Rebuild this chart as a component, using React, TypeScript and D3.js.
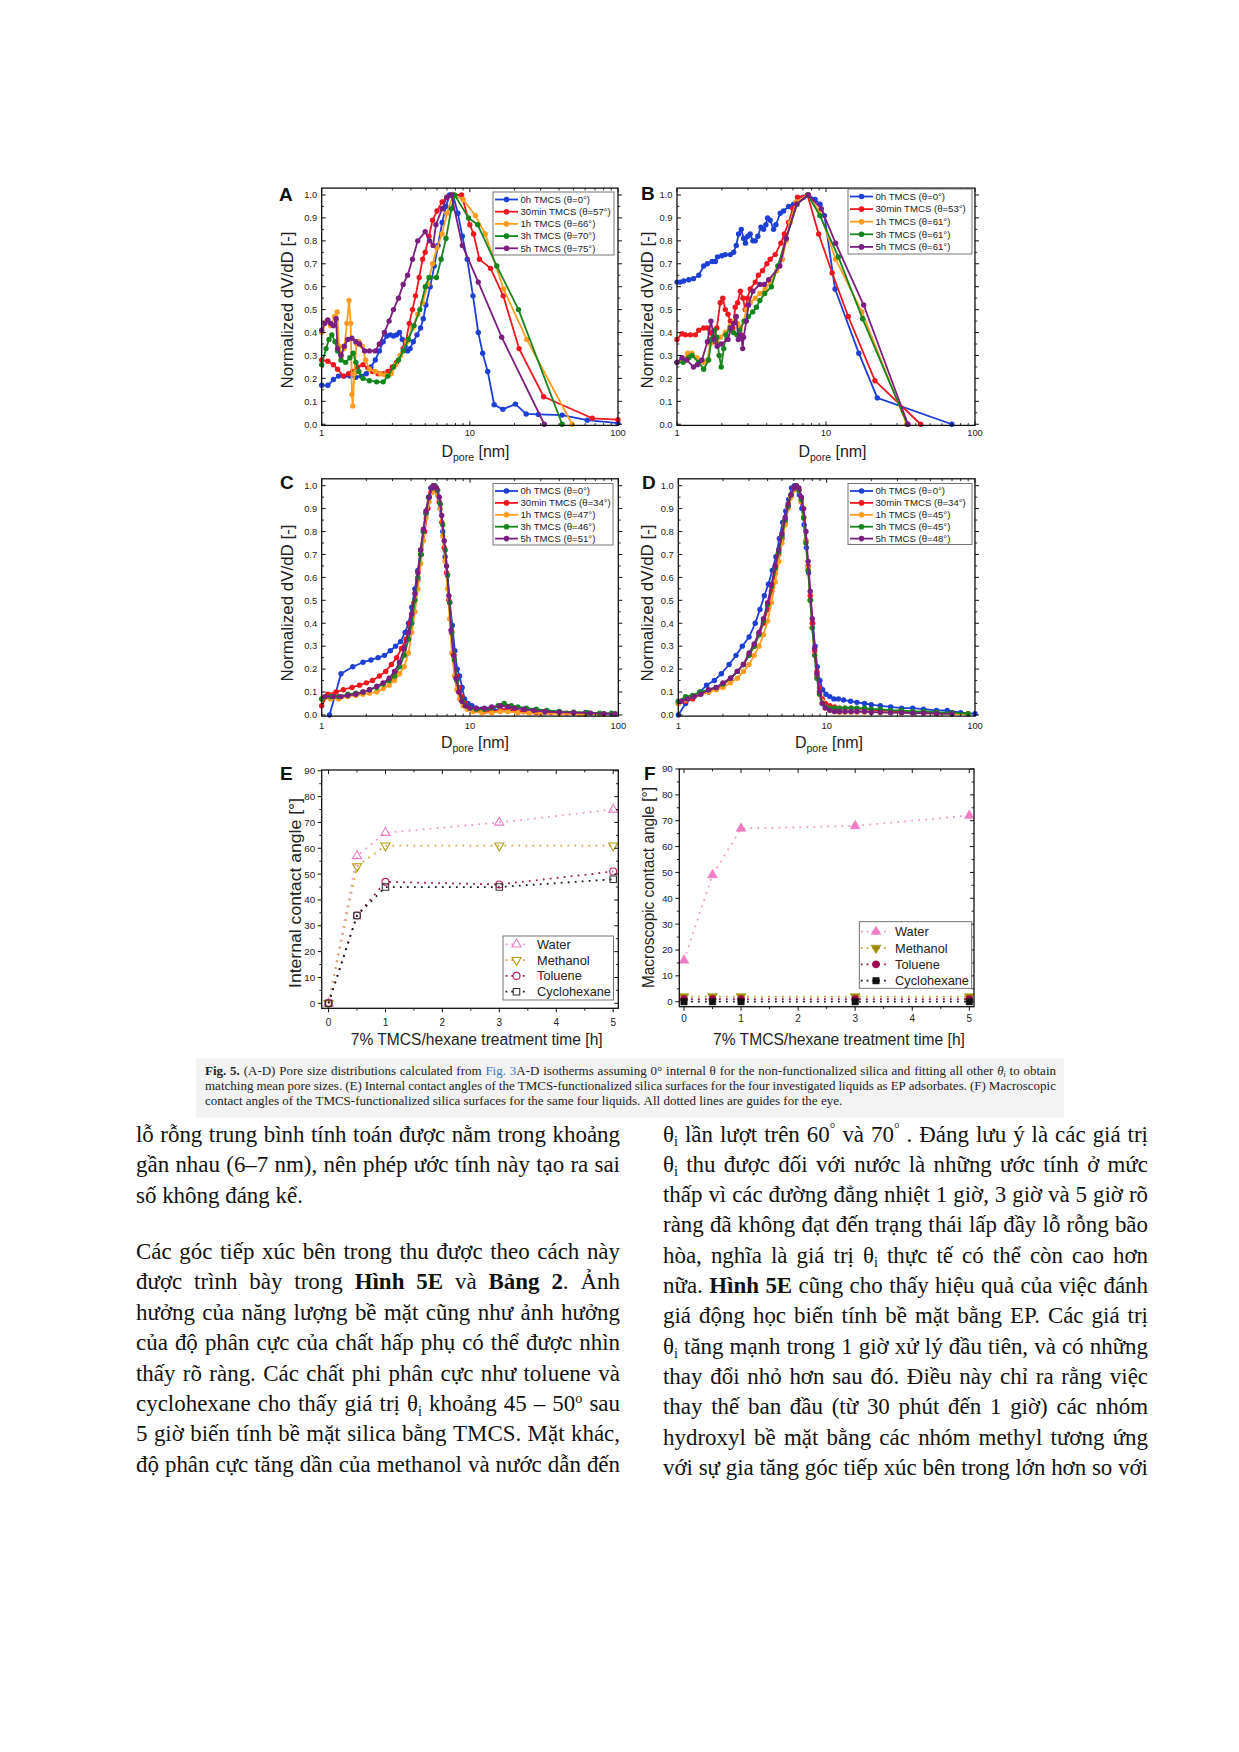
import React, { useEffect } from 'react';
import * as d3 from 'd3';

// ================= DATA =================
const psdSeries = ['0h TMCS', '30min TMCS', '1h TMCS', '3h TMCS', '5h TMCS'];
const psdColors = ['#1d3fd4', '#ef1620', '#ff9d22', '#15851e', '#7a1e80'];
const thetaA = [0, 57, 66, 70, 75];
const thetaB = [0, 53, 61, 61, 61];
const thetaC = [0, 34, 47, 46, 51];
const thetaD = [0, 34, 45, 45, 48];
const psdYTicks = [0, 0.1, 0.2, 0.3, 0.4, 0.5, 0.6, 0.7, 0.8, 0.9, 1.0];
const psdXTicks = [1, 10, 100];

// Panel A: [Dpore nm, normalized dV/dD]
const A_0h = [[1.0,0.17],[1.1,0.17],[1.2,0.195],[1.3,0.21],[1.42,0.21],[1.55,0.21],[1.7,0.205],[1.85,0.21],[2.0,0.22],[2.15,0.25],[2.3,0.28],[2.45,0.32],[2.6,0.36],[2.75,0.385],[2.9,0.39],[3.05,0.385],[3.2,0.39],[3.35,0.40],[3.5,0.37],[3.65,0.34],[3.8,0.32],[3.95,0.33],[4.15,0.36],[4.4,0.39],[4.65,0.42],[4.85,0.46],[5.05,0.52],[5.4,0.60],[5.75,0.69],[6.1,0.78],[6.5,0.88],[6.9,0.95],[7.3,1.0],[7.7,1.0],[8.3,0.92],[8.9,0.82],[9.6,0.72],[10.5,0.56],[11.4,0.40],[12.2,0.31],[13.2,0.23],[14.6,0.085],[16.7,0.065],[20.3,0.088],[24,0.045],[29,0.043],[42,0.04],[62,0.018],[100,0.005]];
const A_30m = [[1.0,0.28],[1.1,0.275],[1.2,0.26],[1.28,0.24],[1.4,0.21],[1.52,0.22],[1.62,0.23],[1.75,0.25],[1.9,0.26],[2.05,0.245],[2.2,0.23],[2.4,0.22],[2.6,0.22],[2.8,0.23],[3.0,0.25],[3.2,0.27],[3.4,0.30],[3.55,0.33],[3.7,0.36],[3.9,0.44],[4.1,0.50],[4.3,0.56],[4.55,0.64],[4.8,0.72],[5.0,0.75],[5.3,0.82],[5.6,0.89],[6.0,0.93],[6.5,0.97],[7.0,0.99],[7.6,1.0],[8.8,1.0],[10.0,0.87],[10.6,0.83],[11.6,0.72],[13.8,0.68],[16.8,0.56],[21.5,0.33],[31.5,0.12],[67,0.026],[100,0.02]];
const A_1h = [[1.0,0.40],[1.08,0.45],[1.15,0.43],[1.22,0.47],[1.27,0.49],[1.31,0.34],[1.36,0.30],[1.42,0.33],[1.48,0.44],[1.53,0.54],[1.57,0.44],[1.6,0.13],[1.62,0.08],[1.66,0.22],[1.72,0.35],[1.78,0.36],[1.88,0.34],[1.98,0.28],[2.1,0.24],[2.3,0.23],[2.5,0.22],[2.7,0.215],[2.95,0.22],[3.15,0.26],[3.4,0.30],[3.75,0.36],[4.1,0.42],[4.45,0.48],[4.8,0.53],[5.2,0.61],[5.6,0.70],[6.0,0.77],[6.5,0.83],[7.0,0.92],[7.7,1.0],[9.0,0.98],[10.9,0.91],[12.7,0.83],[16.9,0.59],[24.2,0.37],[49,0.0]];
const A_3h = [[1.0,0.26],[1.07,0.33],[1.12,0.37],[1.17,0.39],[1.23,0.36],[1.28,0.32],[1.35,0.28],[1.45,0.27],[1.55,0.29],[1.63,0.31],[1.7,0.27],[1.78,0.23],[1.9,0.20],[2.1,0.19],[2.35,0.185],[2.6,0.185],[2.8,0.21],[3.05,0.25],[3.3,0.28],[3.55,0.32],[3.85,0.37],[4.2,0.43],[4.6,0.50],[5.0,0.60],[5.3,0.64],[5.95,0.64],[6.4,0.72],[6.9,0.81],[7.5,0.94],[7.9,1.0],[9.8,0.90],[11.3,0.87],[15.2,0.69],[21.3,0.50],[42,0.0]];
const A_5h = [[1.0,0.41],[1.05,0.44],[1.1,0.455],[1.15,0.44],[1.2,0.43],[1.25,0.46],[1.28,0.33],[1.35,0.30],[1.42,0.34],[1.5,0.37],[1.6,0.375],[1.7,0.36],[1.8,0.35],[1.95,0.32],[2.1,0.32],[2.3,0.32],[2.45,0.35],[2.65,0.40],[2.85,0.45],[3.05,0.50],[3.3,0.55],[3.55,0.61],[3.8,0.65],[4.1,0.72],[4.45,0.80],[5.0,0.84],[5.35,0.80],[5.65,0.78],[5.9,0.87],[6.5,0.94],[7.0,0.99],[7.5,1.0],[8.9,0.78],[11.4,0.62],[16.4,0.38],[31.8,0.0]];

// Panel B
const B_0h = [[1.0,0.62],[1.05,0.62],[1.11,0.625],[1.2,0.63],[1.29,0.635],[1.4,0.65],[1.51,0.69],[1.6,0.70],[1.72,0.71],[1.81,0.71],[1.87,0.73],[2.0,0.735],[2.11,0.74],[2.28,0.74],[2.4,0.75],[2.5,0.78],[2.59,0.83],[2.7,0.85],[2.8,0.81],[2.88,0.79],[2.99,0.82],[3.1,0.83],[3.23,0.80],[3.35,0.80],[3.49,0.82],[3.66,0.86],[3.81,0.85],[3.95,0.87],[4.05,0.90],[4.22,0.89],[4.45,0.85],[4.61,0.87],[4.93,0.92],[5.19,0.93],[5.61,0.95],[6.06,0.96],[6.54,0.98],[7.06,0.99],[7.63,1.0],[8.45,0.98],[9.12,0.96],[9.76,0.91],[11.5,0.59],[16.6,0.31],[22.1,0.115],[69.9,0.0]];
const B_30m = [[1.0,0.37],[1.08,0.395],[1.14,0.39],[1.23,0.39],[1.33,0.39],[1.4,0.41],[1.51,0.42],[1.6,0.42],[1.67,0.40],[1.76,0.36],[1.85,0.42],[1.95,0.53],[2.03,0.55],[2.11,0.50],[2.2,0.48],[2.28,0.45],[2.37,0.42],[2.46,0.51],[2.55,0.53],[2.66,0.58],[2.77,0.55],[2.87,0.50],[2.97,0.55],[3.1,0.59],[3.35,0.62],[3.52,0.65],[3.75,0.67],[4.01,0.70],[4.22,0.72],[4.56,0.74],[4.98,0.79],[5.25,0.83],[5.61,0.88],[5.99,0.94],[6.44,0.99],[7.51,1.0],[8.93,0.83],[11.0,0.66],[14.1,0.47],[21.3,0.19],[43.2,0.0]];
const B_1h = [[1.0,0.27],[1.1,0.28],[1.18,0.31],[1.26,0.31],[1.36,0.29],[1.51,0.27],[1.6,0.28],[1.67,0.35],[1.76,0.37],[1.85,0.36],[1.95,0.38],[2.11,0.40],[2.28,0.43],[2.42,0.45],[2.55,0.44],[2.66,0.42],[2.8,0.45],[2.92,0.50],[3.1,0.53],[3.35,0.55],[3.6,0.57],[3.9,0.59],[4.22,0.62],[4.68,0.67],[5.1,0.72],[5.4,0.80],[5.75,0.88],[6.3,0.97],[7.55,1.0],[9.0,0.93],[11.6,0.72],[17.4,0.49],[34.8,0.0]];
const B_3h = [[1.0,0.27],[1.1,0.27],[1.2,0.29],[1.26,0.30],[1.4,0.27],[1.51,0.24],[1.63,0.28],[1.7,0.37],[1.78,0.41],[1.85,0.38],[1.92,0.30],[1.98,0.25],[2.06,0.33],[2.13,0.39],[2.27,0.42],[2.39,0.40],[2.52,0.39],[2.63,0.41],[2.83,0.45],[3.01,0.47],[3.22,0.49],[3.41,0.51],[3.6,0.54],[3.88,0.57],[4.3,0.60],[4.75,0.69],[5.4,0.81],[6.4,0.96],[7.55,1.0],[9.1,0.91],[12.1,0.73],[17.6,0.46],[35.2,0.0]];
const B_5h = [[1.0,0.27],[1.08,0.29],[1.16,0.28],[1.29,0.25],[1.37,0.26],[1.47,0.28],[1.6,0.36],[1.69,0.45],[1.78,0.37],[1.86,0.34],[1.98,0.35],[2.2,0.37],[2.3,0.42],[2.4,0.44],[2.5,0.47],[2.58,0.37],[2.7,0.39],[2.76,0.33],[2.8,0.38],[2.92,0.45],[3.02,0.52],[3.23,0.58],[3.6,0.61],[3.85,0.61],[4.12,0.63],[4.9,0.69],[5.4,0.81],[6.35,0.96],[7.6,1.0],[9.3,0.94],[11.6,0.79],[17.9,0.52],[35.5,0.0]];

// Panel C
const C_0h = [[1.13,0.0],[1.35,0.18],[1.62,0.21],[1.9,0.23],[2.15,0.24],[2.4,0.25],[2.65,0.26],[2.9,0.28],[3.15,0.30],[3.4,0.32],[3.65,0.36],[3.85,0.40],[4.05,0.47],[4.25,0.55],[4.45,0.63],[4.65,0.72],[4.85,0.80],[5.05,0.88],[5.25,0.95],[5.45,0.99],[5.65,1.0],[5.85,0.99],[6.05,0.96],[6.3,0.90],[6.55,0.80],[6.8,0.69],[7.05,0.61],[7.3,0.49],[7.6,0.39],[7.9,0.28],[8.2,0.20],[8.5,0.17],[8.85,0.12],[9.2,0.07],[9.7,0.05],[10.3,0.04],[11,0.03],[12,0.025],[13,0.02],[14.5,0.02],[16,0.025],[18,0.02],[20,0.02],[23,0.015],[27,0.015],[32,0.01],[40,0.01],[50,0.01],[60,0.01],[75,0.005],[90,0.005]];
const C_30m = [[1.0,0.04],[1.1,0.09],[1.25,0.10],[1.4,0.11],[1.6,0.12],[1.8,0.13],[2.0,0.14],[2.2,0.15],[2.45,0.17],[2.7,0.19],[2.95,0.22],[3.2,0.25],[3.45,0.29],[3.7,0.33],[3.95,0.40],[4.2,0.49],[4.45,0.59],[4.7,0.70],[4.95,0.80],[5.2,0.90],[5.45,0.97],[5.7,1.0],[5.95,0.98],[6.2,0.93],[6.45,0.84],[6.7,0.73],[6.95,0.62],[7.2,0.50],[7.5,0.36],[7.8,0.26],[8.1,0.17],[8.4,0.12],[8.8,0.08],[9.3,0.05],[10,0.03],[11,0.02],[12.5,0.015],[14,0.015],[16,0.02],[18,0.03],[20,0.02],[23,0.015],[28,0.01],[35,0.01],[45,0.008],[60,0.005],[80,0.004]];
const C_1h = [[1.0,0.07],[1.15,0.07],[1.3,0.07],[1.5,0.08],[1.7,0.085],[1.9,0.09],[2.1,0.095],[2.35,0.10],[2.6,0.115],[2.85,0.13],[3.1,0.15],[3.35,0.18],[3.6,0.21],[3.85,0.27],[4.05,0.36],[4.25,0.45],[4.45,0.55],[4.65,0.66],[4.85,0.76],[5.05,0.86],[5.3,0.93],[5.55,0.97],[5.8,0.99],[6.05,0.96],[6.3,0.90],[6.55,0.78],[6.8,0.67],[7.05,0.55],[7.3,0.42],[7.55,0.27],[7.85,0.17],[8.15,0.11],[8.5,0.07],[9,0.04],[9.6,0.025],[10.5,0.015],[12,0.01],[14,0.01],[16,0.015],[18,0.015],[21,0.01],[25,0.008],[30,0.006],[40,0.005],[55,0.004],[75,0.003]];
const C_3h = [[1.0,0.07],[1.15,0.08],[1.3,0.08],[1.5,0.09],[1.7,0.095],[1.9,0.10],[2.1,0.11],[2.35,0.12],[2.6,0.135],[2.85,0.15],[3.1,0.17],[3.35,0.21],[3.6,0.26],[3.85,0.33],[4.05,0.40],[4.25,0.50],[4.45,0.60],[4.65,0.70],[4.85,0.80],[5.05,0.88],[5.3,0.95],[5.55,0.99],[5.8,1.0],[6.05,0.98],[6.3,0.92],[6.55,0.83],[6.8,0.72],[7.05,0.61],[7.3,0.49],[7.55,0.36],[7.85,0.24],[8.15,0.15],[8.5,0.10],[8.9,0.06],[9.4,0.04],[10,0.03],[11,0.025],[12.5,0.025],[14,0.03],[15.5,0.04],[17,0.05],[19,0.04],[21,0.035],[24,0.03],[28,0.025],[33,0.02],[40,0.015],[50,0.012],[62,0.01],[75,0.008],[90,0.008]];
const C_5h = [[1.05,0.08],[1.2,0.08],[1.35,0.08],[1.5,0.085],[1.7,0.09],[1.9,0.10],[2.1,0.11],[2.35,0.125],[2.6,0.14],[2.85,0.16],[3.1,0.19],[3.35,0.23],[3.6,0.29],[3.85,0.36],[4.05,0.44],[4.25,0.53],[4.45,0.62],[4.65,0.72],[4.85,0.81],[5.05,0.89],[5.3,0.95],[5.5,0.99],[5.7,1.0],[5.95,0.99],[6.2,0.95],[6.45,0.87],[6.7,0.76],[6.95,0.65],[7.2,0.52],[7.45,0.37],[7.75,0.26],[8.05,0.16],[8.4,0.10],[8.8,0.06],[9.3,0.04],[10,0.03],[11,0.03],[12.5,0.03],[14,0.035],[16,0.04],[18,0.035],[20,0.03],[23,0.025],[27,0.02],[32,0.015],[40,0.012],[50,0.01],[65,0.008],[80,0.006],[95,0.005]];

// Panel D
const D_0h = [[1.0,0.0],[1.12,0.05],[1.25,0.08],[1.4,0.10],[1.55,0.13],[1.75,0.15],[1.95,0.18],[2.2,0.22],[2.45,0.26],[2.7,0.30],[3.0,0.34],[3.3,0.40],[3.55,0.46],[3.8,0.52],[4.05,0.57],[4.3,0.63],[4.55,0.69],[4.8,0.77],[5.05,0.84],[5.3,0.89],[5.55,0.94],[5.8,0.99],[6.05,1.0],[6.3,0.99],[6.55,0.96],[6.8,0.90],[7.05,0.83],[7.3,0.73],[7.55,0.62],[7.8,0.50],[8.05,0.40],[8.35,0.30],[8.65,0.21],[9.0,0.15],[9.4,0.11],[9.9,0.09],[10.5,0.08],[11.2,0.07],[12,0.07],[13,0.065],[14.5,0.06],[16,0.055],[18,0.05],[20,0.045],[23,0.04],[27,0.035],[32,0.03],[38,0.03],[45,0.025],[55,0.02],[65,0.02],[80,0.01],[100,0.005]];
const D_30m = [[1.0,0.05],[1.12,0.06],[1.25,0.07],[1.4,0.09],[1.6,0.10],[1.8,0.115],[2.0,0.13],[2.25,0.16],[2.5,0.19],[2.75,0.22],[3.0,0.26],[3.25,0.30],[3.5,0.35],[3.75,0.40],[4.0,0.46],[4.25,0.54],[4.5,0.62],[4.75,0.70],[5.0,0.77],[5.25,0.84],[5.5,0.91],[5.75,0.96],[6.0,0.99],[6.25,1.0],[6.5,0.98],[6.75,0.93],[7.0,0.86],[7.25,0.76],[7.5,0.65],[7.75,0.52],[8.0,0.40],[8.3,0.28],[8.6,0.19],[8.95,0.12],[9.35,0.07],[9.8,0.05],[10.5,0.04],[11.3,0.035],[12.2,0.03],[13.3,0.03],[14.6,0.03],[16,0.028],[18,0.025],[20,0.022],[23,0.02],[27,0.018],[32,0.015],[38,0.012],[45,0.01],[55,0.008],[70,0.007],[90,0.005]];
const D_1h = [[1.0,0.05],[1.12,0.065],[1.25,0.08],[1.4,0.09],[1.6,0.10],[1.8,0.11],[2.0,0.12],[2.25,0.14],[2.5,0.16],[2.75,0.19],[3.0,0.22],[3.25,0.26],[3.5,0.30],[3.75,0.35],[4.0,0.41],[4.25,0.49],[4.5,0.58],[4.75,0.67],[5.0,0.75],[5.25,0.83],[5.5,0.90],[5.75,0.95],[6.0,0.98],[6.25,1.0],[6.5,0.98],[6.75,0.93],[7.0,0.86],[7.25,0.76],[7.5,0.64],[7.75,0.50],[8.0,0.38],[8.3,0.26],[8.6,0.17],[8.95,0.10],[9.35,0.06],[9.8,0.03],[10.5,0.02],[11.3,0.015],[12.2,0.012],[13.3,0.012],[14.6,0.012],[16,0.012],[18,0.012],[20,0.012],[23,0.01],[27,0.01],[32,0.008],[38,0.008],[45,0.007],[55,0.006],[70,0.005],[90,0.004]];
const D_3h = [[1.0,0.06],[1.12,0.08],[1.25,0.085],[1.4,0.10],[1.6,0.11],[1.8,0.12],[2.0,0.135],[2.25,0.16],[2.5,0.19],[2.75,0.22],[3.0,0.26],[3.25,0.30],[3.5,0.35],[3.75,0.41],[4.0,0.48],[4.25,0.56],[4.5,0.64],[4.75,0.71],[5.0,0.78],[5.25,0.85],[5.5,0.91],[5.75,0.96],[6.0,0.99],[6.25,1.0],[6.5,0.98],[6.75,0.94],[7.0,0.86],[7.25,0.75],[7.5,0.63],[7.75,0.50],[8.0,0.38],[8.3,0.26],[8.6,0.16],[8.95,0.09],[9.35,0.05],[9.8,0.035],[10.5,0.03],[11.3,0.03],[12.2,0.03],[13.3,0.03],[14.6,0.03],[16,0.03],[18,0.03],[20,0.025],[23,0.025],[27,0.02],[32,0.02],[38,0.015],[45,0.015],[55,0.012],[70,0.01],[90,0.006]];
const D_5h = [[1.05,0.06],[1.15,0.07],[1.28,0.08],[1.42,0.09],[1.6,0.11],[1.8,0.12],[2.0,0.14],[2.25,0.16],[2.5,0.19],[2.75,0.22],[3.0,0.27],[3.25,0.31],[3.5,0.36],[3.75,0.42],[4.0,0.49],[4.25,0.57],[4.5,0.65],[4.75,0.72],[5.0,0.79],[5.25,0.86],[5.5,0.92],[5.75,0.96],[6.0,0.99],[6.25,1.0],[6.5,0.99],[6.75,0.95],[7.0,0.90],[7.25,0.80],[7.5,0.67],[7.75,0.54],[8.0,0.42],[8.3,0.29],[8.6,0.18],[8.95,0.10],[9.35,0.05],[9.8,0.03],[10.5,0.02],[11.3,0.015],[12.2,0.015],[13.3,0.015],[14.6,0.015],[16,0.015],[18,0.015],[20,0.012],[23,0.012],[27,0.01],[32,0.01],[38,0.008],[45,0.008],[55,0.006],[70,0.005]];

// Panels E / F
const liquids = ['Water', 'Methanol', 'Toluene', 'Cyclohexane'];
const treatTime = [0, 0.5, 1, 3, 5];
const angleXTicks = [0, 1, 2, 3, 4, 5];
const angleYTicks = [0, 10, 20, 30, 40, 50, 60, 70, 80, 90];
const internalWater = [0, 57, 66, 70, 75];
const internalMethanol = [0, 53, 61, 61, 61];
const internalToluene = [0, 34, 47, 46, 51];
const internalCyclohexane = [0, 34, 45, 45, 48];
const macroWater = [16, 49, 67, 68, 72];
const macroMethanol = [2, 2, 2, 2, 2];
const macroToluene = [1, 1, 1, 1, 1];
const macroCyclohexane = [0, 0, 0, 0, 0];

// ================= TEXT =================
const captionLines = [
  '**Fig. 5.** (A-D) Pore size distributions calculated from §Fig. 3§A-D isotherms assuming 0° internal θ for the non-functionalized silica and fitting all other ~θ_i~ to obtain',
  'matching mean pore sizes. (E) Internal contact angles of the TMCS-functionalized silica surfaces for the four investigated liquids as EP adsorbates. (F) Macroscopic',
  'contact angles of the TMCS-functionalized silica surfaces for the same four liquids. All dotted lines are guides for the eye.',
];
const leftPara1 = [
  'lỗ rỗng trung bình tính toán được nằm trong khoảng',
  'gần nhau (6–7 nm), nên phép ước tính này tạo ra sai',
  'số không đáng kể.',
];
const leftPara2 = [
  'Các góc tiếp xúc bên trong thu được theo cách này',
  'được trình bày trong **Hình 5E** và **Bảng 2**. Ảnh',
  'hưởng của năng lượng bề mặt cũng như ảnh hưởng',
  'của độ phân cực của chất hấp phụ có thể được nhìn',
  'thấy rõ ràng. Các chất phi phân cực như toluene và',
  'cyclohexane cho thấy giá trị θ_i khoảng 45 – 50^o sau',
  '5 giờ biến tính bề mặt silica bằng TMCS. Mặt khác,',
  'độ phân cực tăng dần của methanol và nước dẫn đến',
];
const rightPara = [
  'θ_i lần lượt trên 60^° và 70^° . Đáng lưu ý là các giá trị',
  'θ_i thu được đối với nước là những ước tính ở mức',
  'thấp vì các đường đẳng nhiệt 1 giờ, 3 giờ và 5 giờ rõ',
  'ràng đã không đạt đến trạng thái lấp đầy lỗ rỗng bão',
  'hòa, nghĩa là giá trị θ_i thực tế có thể còn cao hơn',
  'nữa. **Hình 5E** cũng cho thấy hiệu quả của việc đánh',
  'giá động học biến tính bề mặt bằng EP. Các giá trị',
  'θ_i tăng mạnh trong 1 giờ xử lý đầu tiên, và có những',
  'thay đổi nhỏ hơn sau đó. Điều này chỉ ra rằng việc',
  'thay thế ban đầu (từ 30 phút đến 1 giờ) các nhóm',
  'hydroxyl bề mặt bằng các nhóm methyl tương ứng',
  'với sự gia tăng góc tiếp xúc bên trong lớn hơn so với',
];

// ================= HELPERS =================
const SANS = '"Liberation Sans", Arial, sans-serif';
const SERIF = '"Liberation Serif", "Times New Roman", serif';

let _ctx: any = null;
function mctx() {
  if (!_ctx) _ctx = document.createElement('canvas').getContext('2d');
  return _ctx;
}
type Run = { t: string; b: boolean; i: boolean; sub: boolean; sup: boolean; blue: boolean };
function parse(s: string): Run[][] {
  const words: Run[][] = [];
  let cur: Run[] = [];
  let b = false, it = false, blue = false;
  let k = 0;
  const push = (ch: string, sub: boolean, sup: boolean) => {
    const last = cur[cur.length - 1];
    if (last && last.b === b && last.i === it && last.sub === sub && last.sup === sup && last.blue === blue) last.t += ch;
    else cur.push({ t: ch, b, i: it, sub, sup, blue });
  };
  while (k < s.length) {
    const ch = s[k];
    if (s.startsWith('**', k)) { b = !b; k += 2; continue; }
    if (ch === '~') { it = !it; k++; continue; }
    if (ch === '§') { blue = !blue; k++; continue; }
    if (ch === '_') { push(s[k + 1], true, false); k += 2; continue; }
    if (ch === '^') { push(s[k + 1], false, true); k += 2; continue; }
    if (ch === ' ') { if (cur.length) words.push(cur); cur = []; k++; continue; }
    push(ch, false, false); k++;
  }
  if (cur.length) words.push(cur);
  return words;
}
function runSize(r: Run, size: number) { return r.sub || r.sup ? size * 0.62 : size; }
function fontStr(r: Run, size: number) {
  return `${r.i ? 'italic ' : ''}${r.b ? 'bold ' : ''}${runSize(r, size)}px ${SERIF}`;
}
function measureWord(w: Run[], size: number) {
  const c = mctx();
  let t = 0;
  for (const r of w) { c.font = fontStr(r, size); t += c.measureText(r.t).width; }
  return t;
}
function measureLine(s: string, size: number) {
  const words = parse(s);
  const c = mctx();
  c.font = `${size}px ${SERIF}`;
  const sp = c.measureText(' ').width;
  return d3.sum(words, (w) => measureWord(w, size)) + sp * (words.length - 1);
}

function JLine({ s, x, y, width, size, justify, color }: any) {
  const words = parse(s);
  const widths = words.map((w) => measureWord(w, size));
  const total = d3.sum(widths);
  const c = mctx();
  c.font = `${size}px ${SERIF}`;
  const sp = c.measureText(' ').width;
  const gap = justify && words.length > 1 ? (width - total) / (words.length - 1) : sp;
  let cx = x;
  return (
    <g>
      {words.map((w, k) => {
        const px = cx;
        cx += widths[k] + gap;
        let off = 0;
        return (
          <text key={k} x={px} y={y} fontFamily={SERIF} fontSize={size} fill={color}>
            {w.map((r, j) => {
              const target = r.sub ? size * 0.2 : r.sup ? -size * 0.36 : 0;
              const dy = target - off;
              off = target;
              return (
                <tspan key={j} dy={dy} fontSize={runSize(r, size)} fontWeight={r.b ? 'bold' : 'normal'}
                  fontStyle={r.i ? 'italic' : 'normal'} fill={r.blue ? '#3a78c2' : color}>{r.t}</tspan>
              );
            })}
          </text>
        );
      })}
    </g>
  );
}

// ================= PSD PANELS =================
const psdPanels = [
  { letter: 'A', lx: 279, ly: 201, x0: 321.7, x1: 618, top: 188.1, bottom: 425.4, data: [A_0h, A_30m, A_1h, A_3h, A_5h], thetas: thetaA,
    leg: { x: 493, y: 192, w: 121, h: 63, dy: 12.2 }, yt: { x: 286.7, y: 310 }, xt: { x: 475.5, y: 456.7 }, xlabY: 436 },
  { letter: 'B', lx: 641, ly: 200, x0: 677, x1: 975, top: 188.1, bottom: 425.4, data: [B_0h, B_30m, B_1h, B_3h, B_5h], thetas: thetaB,
    leg: { x: 848, y: 189, w: 124, h: 65, dy: 12.6 }, yt: { x: 646.7, y: 310 }, xt: { x: 832.5, y: 456.7 }, xlabY: 436 },
  { letter: 'C', lx: 280, ly: 489, x0: 321.7, x1: 618.3, top: 478.8, bottom: 716.1, data: [C_0h, C_30m, C_1h, C_3h, C_5h], thetas: thetaC,
    leg: { x: 493, y: 483.5, w: 120, h: 61.5, dy: 11.9 }, yt: { x: 286.7, y: 603 }, xt: { x: 475, y: 748.3 }, xlabY: 729 },
  { letter: 'D', lx: 642, ly: 489, x0: 678.3, x1: 975, top: 478.8, bottom: 716.1, data: [D_0h, D_30m, D_1h, D_3h, D_5h], thetas: thetaD,
    leg: { x: 848, y: 483.5, w: 124, h: 61, dy: 11.9 }, yt: { x: 646.7, y: 603 }, xt: { x: 829, y: 748.3 }, xlabY: 729 },
];

function PSDPanel({ p }: any) {
  const x = d3.scaleLog().domain([1, 100]).range([p.x0, p.x1]);
  const y = d3.scaleLinear().domain([-0.005, 1.03]).range([p.bottom, p.top]);
  const line = d3.line<number[]>().x((d) => x(d[0])).y((d) => y(d[1]));
  const yMinor = psdYTicks.slice(0, -1).map((v) => v + 0.05);
  const xMinor: number[] = [];
  [1, 10].forEach((dec) => { for (let m = 2; m <= 9; m++) xMinor.push(dec * m); });
  const tk = 4, tm = 2.3;
  return (
    <g>
      {p.data.map((s: number[][], i: number) => (
        <g key={i}>
          <path d={line(s) || ''} fill="none" stroke={psdColors[i]} strokeWidth={1.8} strokeLinejoin="round" />
          {s.map((d, j) => <circle key={j} cx={x(d[0])} cy={y(d[1])} r={2.7} fill={psdColors[i]} />)}
        </g>
      ))}
      <rect x={p.x0} y={p.top} width={p.x1 - p.x0} height={p.bottom - p.top} fill="none" stroke="#111" strokeWidth={1.3} />
      {psdYTicks.map((v) => (
        <g key={'y' + v}>
          <line x1={p.x0} x2={p.x0 + tk} y1={y(v)} y2={y(v)} stroke="#111" strokeWidth={1} />
          <line x1={p.x1} x2={p.x1 + tk} y1={y(v)} y2={y(v)} stroke="#111" strokeWidth={1} />
          <text x={p.x0 - 4.5} y={y(v)} dy="0.35em" textAnchor="end" fontFamily={SANS} fontSize={9.4} fill="#222">{d3.format('.1f')(v)}</text>
        </g>
      ))}
      {yMinor.map((v) => (
        <g key={'ym' + v}>
          <line x1={p.x0} x2={p.x0 + tm} y1={y(v)} y2={y(v)} stroke="#111" strokeWidth={0.9} />
          <line x1={p.x1} x2={p.x1 + tm} y1={y(v)} y2={y(v)} stroke="#111" strokeWidth={0.9} />
        </g>
      ))}
      {psdXTicks.map((v) => (
        <g key={'x' + v}>
          <line x1={x(v)} x2={x(v)} y1={p.bottom} y2={p.bottom - tk} stroke="#111" strokeWidth={1} />
          <line x1={x(v)} x2={x(v)} y1={p.top} y2={p.top + tk} stroke="#111" strokeWidth={1} />
          <text x={x(v)} y={p.xlabY} textAnchor="middle" fontFamily={SANS} fontSize={9.4} fill="#222">{v}</text>
        </g>
      ))}
      {xMinor.map((v) => (
        <g key={'xm' + v}>
          <line x1={x(v)} x2={x(v)} y1={p.bottom} y2={p.bottom - tm} stroke="#111" strokeWidth={0.9} />
          <line x1={x(v)} x2={x(v)} y1={p.top} y2={p.top + tm} stroke="#111" strokeWidth={0.9} />
        </g>
      ))}
      <text x={p.lx} y={p.ly} fontFamily={SANS} fontWeight="bold" fontSize={19} fill="#111">{p.letter}</text>
      <text transform={`translate(${p.yt.x},${p.yt.y}) rotate(-90)`} textAnchor="middle" dy="0.35em" fontFamily={SANS}
        fontSize={17} fill="#222" textLength={157} lengthAdjust="spacingAndGlyphs">Normalized dV/dD [-]</text>
      <text x={p.xt.x} y={p.xt.y} textAnchor="middle" fontFamily={SANS} fontSize={16} fill="#222">
        D<tspan fontSize={10.5} dy={4}>pore</tspan><tspan dy={-4}> [nm]</tspan>
      </text>
      <rect x={p.leg.x} y={p.leg.y} width={p.leg.w} height={p.leg.h} fill="#fff" stroke="#666" strokeWidth={0.9} />
      {psdSeries.map((n, i) => {
        const ly = p.leg.y + 7.5 + i * p.leg.dy;
        return (
          <g key={n}>
            <line x1={p.leg.x + 2} x2={p.leg.x + 25} y1={ly} y2={ly} stroke={psdColors[i]} strokeWidth={1.8} />
            <circle cx={p.leg.x + 13.5} cy={ly} r={2.8} fill={psdColors[i]} />
            <text x={p.leg.x + 27.5} y={ly} dy="0.35em" fontFamily={SANS} fontSize={9.6} fill="#222">
              {`${n} (θ=${p.thetas[i]}°)`}
            </text>
          </g>
        );
      })}
    </g>
  );
}

// ================= ANGLE PANELS =================
const downTri = { draw(ctx: any, size: number) { const s = Math.sqrt(size / (Math.sqrt(3) / 4)); const h = s * Math.sqrt(3) / 2;
  ctx.moveTo(0, h * 2 / 3); ctx.lineTo(s / 2, -h / 3); ctx.lineTo(-s / 2, -h / 3); ctx.closePath(); } };
const upTri = { draw(ctx: any, size: number) { const s = Math.sqrt(size / (Math.sqrt(3) / 4)); const h = s * Math.sqrt(3) / 2;
  ctx.moveTo(0, -h * 2 / 3); ctx.lineTo(s / 2, h / 3); ctx.lineTo(-s / 2, h / 3); ctx.closePath(); } };

const internalStyles = [
  { vals: internalWater, line: '#f199d2', mark: '#ea7cc4', sym: upTri, size: 36 },
  { vals: internalMethanol, line: '#d8a648', mark: '#b29c10', sym: downTri, size: 36 },
  { vals: internalToluene, line: '#9c1653', mark: '#c21d6b', sym: d3.symbolCircle, size: 38 },
  { vals: internalCyclohexane, line: '#1a1a1a', mark: '#333', sym: d3.symbolSquare, size: 42 },
];
const macroStyles = [
  { vals: macroWater, line: '#f199d2', mark: '#f07cc3', sym: upTri, size: 42 },
  { vals: macroMethanol, line: '#c7a030', mark: '#a08c00', sym: downTri, size: 42 },
  { vals: macroToluene, line: '#9c1653', mark: '#9c0a4e', sym: d3.symbolCircle, size: 42 },
  { vals: macroCyclohexane, line: '#1a1a1a', mark: '#111', sym: d3.symbolSquare, size: 42 },
];

const anglePanels = [
  { letter: 'E', lx: 280, ly: 780, x0: 321.7, x1: 618.3, top: 770, bottom: 1008.3, xdom: [-0.12, 5.09], ydom: [-1.94, 90.3],
    styles: internalStyles, filled: false, title: 'Internal contact angle [°]', tlen: 190, yt: { x: 295, y: 893 }, xt: { x: 476.7, y: 1045 },
    xlabY: 1026, leg: { x: 503, y: 936, w: 110.5, h: 64, first: 8.3, dy: 15.8, lx1: 2.5, lx2: 24, mx: 13.5, tx: 34 } },
  { letter: 'F', lx: 644, ly: 780, x0: 679.3, x1: 974, top: 769, bottom: 1006.7, xdom: [-0.082, 5.082], ydom: [-1.93, 90],
    styles: macroStyles, filled: true, title: 'Macroscopic contact angle [°]', tlen: 201, yt: { x: 648.3, y: 887.5 }, xt: { x: 839, y: 1045 },
    xlabY: 1022, leg: { x: 859.3, y: 921.7, w: 112.4, h: 66.6, first: 10, dy: 16.33, lx1: 1.5, lx2: 28, mx: 16.7, tx: 35.7 } },
];

function AnglePanel({ p }: any) {
  const x = d3.scaleLinear().domain(p.xdom).range([p.x0, p.x1]);
  const y = d3.scaleLinear().domain(p.ydom).range([p.bottom, p.top]);
  const line = d3.line<number>().x((_, i) => x(treatTime[i])).y((d) => y(d));
  const tk = 4, tm = 2.4;
  const xMinor = [0.5, 1.5, 2.5, 3.5, 4.5];
  const yMinor = angleYTicks.slice(0, -1).map((v) => v + 5);
  return (
    <g>
      {p.styles.map((s: any, i: number) => (
        <path key={'l' + i} d={line(s.vals) || ''} fill="none" stroke={s.line} strokeWidth={1.8} strokeDasharray="1.8 5.2" />
      ))}
      {p.styles.map((s: any, i: number) => (
        <g key={'m' + i}>
          {s.vals.map((v: number, j: number) => (
            <path key={j} transform={`translate(${x(treatTime[j])},${y(v)})`} d={d3.symbol(s.sym, s.size)() || ''}
              fill={p.filled ? s.mark : 'none'} stroke={s.mark} strokeWidth={p.filled ? 0.5 : 1.1} />
          ))}
        </g>
      ))}
      <rect x={p.x0} y={p.top} width={p.x1 - p.x0} height={p.bottom - p.top} fill="none" stroke="#111" strokeWidth={1.3} />
      {angleYTicks.map((v) => (
        <g key={'y' + v}>
          <line x1={p.x0} x2={p.x0 - tk} y1={y(v)} y2={y(v)} stroke="#111" strokeWidth={1} />
          <line x1={p.x1} x2={p.x1 - tk} y1={y(v)} y2={y(v)} stroke="#111" strokeWidth={1} />
          <text x={p.x0 - 6.5} y={y(v)} dy="0.35em" textAnchor="end" fontFamily={SANS} fontSize={9.8} fill="#222">{v}</text>
        </g>
      ))}
      {yMinor.map((v) => (
        <g key={'ym' + v}>
          <line x1={p.x0} x2={p.x0 - tm} y1={y(v)} y2={y(v)} stroke="#111" strokeWidth={0.9} />
          <line x1={p.x1} x2={p.x1 - tm} y1={y(v)} y2={y(v)} stroke="#111" strokeWidth={0.9} />
        </g>
      ))}
      {angleXTicks.map((v) => (
        <g key={'x' + v}>
          <line x1={x(v)} x2={x(v)} y1={p.bottom} y2={p.bottom + tk} stroke="#111" strokeWidth={1} />
          <line x1={x(v)} x2={x(v)} y1={p.top} y2={p.top + tk} stroke="#111" strokeWidth={1} />
          <text x={x(v)} y={p.xlabY} textAnchor="middle" fontFamily={SANS} fontSize={10} fill="#222">{v}</text>
        </g>
      ))}
      {xMinor.map((v) => (
        <g key={'xm' + v}>
          <line x1={x(v)} x2={x(v)} y1={p.bottom} y2={p.bottom + tm} stroke="#111" strokeWidth={0.9} />
          <line x1={x(v)} x2={x(v)} y1={p.top} y2={p.top + tm} stroke="#111" strokeWidth={0.9} />
        </g>
      ))}
      <text x={p.lx} y={p.ly} fontFamily={SANS} fontWeight="bold" fontSize={19} fill="#111">{p.letter}</text>
      <text transform={`translate(${p.yt.x},${p.yt.y}) rotate(-90)`} textAnchor="middle" dy="0.35em" fontFamily={SANS}
        fontSize={17} fill="#222" textLength={p.tlen} lengthAdjust="spacingAndGlyphs">{p.title}</text>
      <text x={p.xt.x} y={p.xt.y} textAnchor="middle" fontFamily={SANS} fontSize={15.6} fill="#222">7% TMCS/hexane treatment time [h]</text>
      <rect x={p.leg.x} y={p.leg.y} width={p.leg.w} height={p.leg.h} fill="#fff" stroke="#666" strokeWidth={0.9} />
      {p.styles.map((s: any, i: number) => {
        const ly = p.leg.y + p.leg.first + i * p.leg.dy;
        return (
          <g key={'lg' + i}>
            <line x1={p.leg.x + p.leg.lx1} x2={p.leg.x + p.leg.lx2} y1={ly} y2={ly} stroke={s.line} strokeWidth={1.8} strokeDasharray="1.8 4" />
            <path transform={`translate(${p.leg.x + p.leg.mx},${ly})`} d={d3.symbol(s.sym, s.size)() || ''}
              fill={p.filled ? s.mark : '#fff'} stroke={s.mark} strokeWidth={p.filled ? 0.5 : 1.1} />
            <text x={p.leg.x + p.leg.tx} y={ly} dy="0.35em" fontFamily={SANS} fontSize={12.8} fill="#222">{liquids[i]}</text>
          </g>
        );
      })}
    </g>
  );
}

// ================= APP =================
export default function App() {
  useEffect(() => {
    document.body.style.margin = '0';
    document.body.style.overflow = 'hidden';
  }, []);

  // caption font fitted to the measured width of its last line
  let capSize = 11.5 * 640 / measureLine(captionLines[2], 11.5);
  capSize = Math.max(10, Math.min(13, capSize));
  let bodySize = 23 * 167 / measureLine(leftPara1[2], 23);
  bodySize = Math.max(21, Math.min(24.5, bodySize));

  const capBase = [1074.5, 1089.5, 1104.5];
  const lp1Base = [1141.5, 1172, 1202.5];
  const lp2Base = leftPara2.map((_, i) => 1259 + i * 30.4);
  const rBase = rightPara.map((_, i) => 1141.5 + i * 30.3);

  return (
    <svg width={1239} height={1752} viewBox="0 0 1239 1752" xmlns="http://www.w3.org/2000/svg"
      style={{ position: 'absolute', left: 0, top: 0, display: 'block' }}>
      <rect x={0} y={0} width={1239} height={1752} fill="#fff" />
      {psdPanels.map((p) => <PSDPanel key={p.letter} p={p} />)}
      {anglePanels.map((p) => <AnglePanel key={p.letter} p={p} />)}
      <rect x={196} y={1058} width={868} height={60} fill="#f3f3f3" />
      {captionLines.map((s, i) => (
        <JLine key={'c' + i} s={s} x={205} y={capBase[i]} width={851} size={capSize} justify={i < 2} color="#222" />
      ))}
      {leftPara1.map((s, i) => (
        <JLine key={'l1' + i} s={s} x={136} y={lp1Base[i]} width={484} size={bodySize} justify={i < 2} color="#111" />
      ))}
      {leftPara2.map((s, i) => (
        <JLine key={'l2' + i} s={s} x={136} y={lp2Base[i]} width={484} size={bodySize} justify={true} color="#111" />
      ))}
      {rightPara.map((s, i) => (
        <JLine key={'r' + i} s={s} x={663} y={rBase[i]} width={485} size={bodySize} justify={true} color="#111" />
      ))}
    </svg>
  );
}
